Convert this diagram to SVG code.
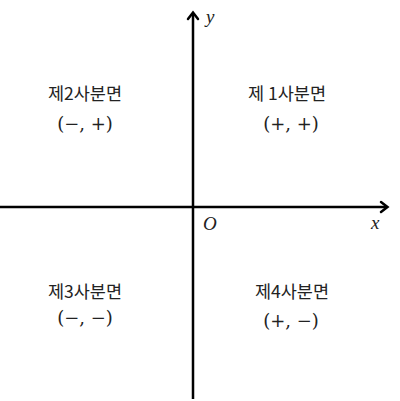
<svg xmlns="http://www.w3.org/2000/svg" width="400" height="401" viewBox="0 0 400 401">
<defs>
<style>
.ax{stroke:#000;stroke-width:2.5;fill:none}
.ah{stroke:#000;stroke-width:2.5;fill:none;stroke-linecap:round;stroke-linejoin:miter}
.kr{font-family:"Noto Sans CJK KR","Noto Sans",sans-serif;font-size:17.5px;fill:#222;text-anchor:middle}
.sg{font-family:"DejaVu Serif","Liberation Serif",serif;font-size:18px;fill:#222;text-anchor:middle}
.it{font-family:"Liberation Serif","DejaVu Serif",serif;font-style:italic;font-size:19px;fill:#222}
</style>
</defs>
<rect width="400" height="401" fill="#fff"/>
<g id="axes">
<line class="ax" x1="0" y1="207" x2="387" y2="207"/>
<polyline class="ah" points="381,202 387.5,207 381,212"/>
<line class="ax" x1="193" y1="399" x2="193" y2="13"/>
<polyline class="ah" points="188,19 193,12.5 198,19"/>
</g>
<g id="labels">
<text class="it" x="206" y="23">y</text>
<text class="it" x="203" y="230">O</text>
<text class="it" x="371" y="229">x</text>
</g>
<g id="q2">
<text class="kr" x="85" y="100">제2사분면</text>
<text class="sg" x="85" y="130">(−, +)</text>
</g>
<g id="q1">
<text class="kr" x="287" y="100">제 1사분면</text>
<text class="sg" x="291" y="130">(+, +)</text>
</g>
<g id="q3">
<text class="kr" x="85" y="298">제3사분면</text>
<text class="sg" x="85" y="324">(−, −)</text>
</g>
<g id="q4">
<text class="kr" x="292" y="298">제4사분면</text>
<text class="sg" x="291" y="327">(+, −)</text>
</g>
</svg>
